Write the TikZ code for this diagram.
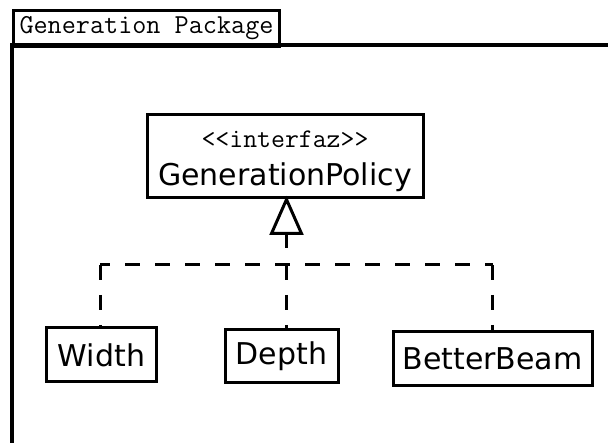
\documentclass[tikz,border=0pt]{standalone}
\usepackage{fontspec}
\usetikzlibrary{calc}
\newfontfamily\umlsans{DejaVu Sans}
\newfontfamily\umlmono{Latin Modern Mono}

\tikzset{
  frame/.style={line width=3.5pt},
  classbox/.style={draw, line width=3pt, fill=white, inner sep=0pt,
    font=\umlsans\fontsize{30}{30}\selectfont},
  stereo/.style={font=\umlmono\fontsize{27}{27}\selectfont, inner sep=0pt},
  cname/.style={font=\umlsans\fontsize{30}{30}\selectfont, inner sep=0pt},
  dep/.style={line width=3pt, dash pattern=on 15pt off 15pt},
  hollow/.style={line width=3pt, fill=white, line join=miter},
}

\begin{document}
\begin{tikzpicture}[x=1pt, y=-1pt]
  \useasboundingbox[fill=white] (0,0) rectangle (608,443);

  % package frame with its name tab
  \draw[frame] (12,443) -- (12,45) -- (608,45);
  \node[draw, line width=3pt, minimum width=266pt, minimum height=36pt,
        inner sep=0pt, anchor=north west,
        font=\umlmono\fontsize{27.4}{27.4}\selectfont] (tab) at (12,9)
        {Generation Package};

  % interface
  \node[classbox, minimum width=276pt, minimum height=83pt] (gp) at (285,156.5) {};
  \node[stereo] (gpst) at (285,139) {{<}{<}interfaz{>}{>}};
  \node[cname] (gpname) at (285,177) {GenerationPolicy};

  % implementing classes
  \node[classbox, minimum width=110pt, minimum height=54pt] (width)  at (101.5,355) {Width};
  \node[classbox, minimum width=113pt, minimum height=53pt] (depth)  at (281.5,356.5) {Depth};
  \node[classbox, minimum width=199pt, minimum height=54pt] (better) at (492.5,359) {BetterBeam};

  % realization: hollow triangle under the interface and dashed bus
  \path (0,265) coordinate (busy);
  \coordinate (tb) at ($(gp.south)+(1.5,34)$);
  \coordinate (apex) at ($(gp.south)+(1.5,0)$);
  \draw[dep] (tb) -- (tb |- busy);
  \draw[hollow] (apex) -- ($(tb)+(15,0)$) -- ($(tb)+(-15,0)$) -- cycle;

  \coordinate (busL) at (100,265);
  \coordinate (busR) at (better.north |- busy);
  \draw[dep, dash phase=5pt] (busL) -- (busR);
  \draw[dep] (busL) -- (busL |- width.north);
  \draw[dep] (tb |- busy) -- (tb |- depth.north);
  \draw[dep] (busR) -- (better.north);
\end{tikzpicture}
\end{document}
